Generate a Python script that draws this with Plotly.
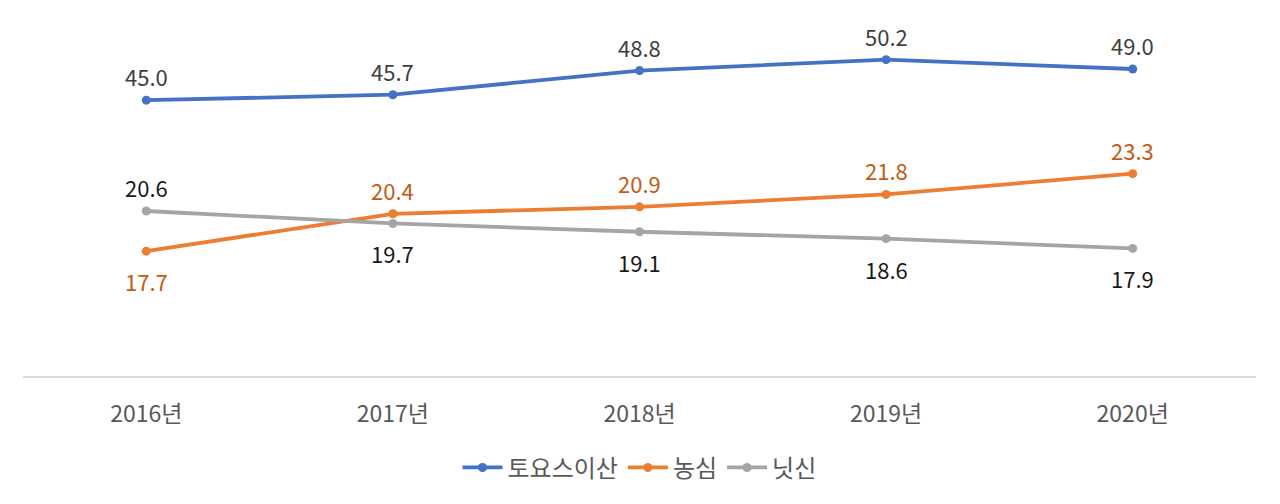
import plotly.graph_objects as go

years = ['2016년', '2017년', '2018년', '2019년', '2020년']
toyo = [45.0, 45.7, 48.8, 50.2, 49.0]
nongshim = [17.7, 20.4, 20.9, 21.8, 23.3]
nissin = [20.6, 19.7, 19.1, 18.6, 17.9]

FONT = 'Noto Sans CJK KR'
LABEL_SIZE = 22

series = [
    # name, values, axis, line colour, label colour, label above?
    ('토요스이산', toyo, 'y2', '#4472C4', '#404040', [True] * 5),
    ('농심', nongshim, 'y', '#ED7D31', '#C55A11', [False, True, True, True, True]),
    ('닛신', nissin, 'y', '#A5A5A5', '#1a1a1a', [True, False, False, False, False]),
]

fig = go.Figure()
for name, vals, ax, col, lcol, above in series:
    fig.add_trace(go.Scatter(
        x=years, y=vals, name=name, yaxis=ax, mode='lines+markers',
        line=dict(color=col, width=3.8), marker=dict(size=9, color=col)))
    for yr, v, up in zip(years, vals, above):
        fig.add_annotation(
            x=yr, y=v, xref='x', yref=ax, text=f'{v:.1f}', showarrow=False,
            yshift=24 if up else -30,
            font=dict(color=lcol, size=LABEL_SIZE, family=FONT))

# page body has an 8px margin, so the figure is drawn 8px smaller
fig.update_layout(
    width=1272, height=496,
    paper_bgcolor='white', plot_bgcolor='white',
    margin=dict(l=15, r=24, t=12, b=128),
    font=dict(family=FONT, color='#595959'),
    showlegend=True,
    legend=dict(orientation='h', x=0.5, xanchor='center', y=-0.258, yanchor='middle',
                font=dict(size=24, color='#595959'), itemwidth=40),
    xaxis=dict(type='category', range=[-0.5, 4.5], showgrid=False, zeroline=False,
               showline=True, linecolor='#D9D9D9', linewidth=1.5,
               tickfont=dict(size=23, color='#595959'), ticklabelstandoff=17),
    yaxis=dict(range=[8.68, 34.4], visible=False),
    yaxis2=dict(range=[9.59, 55.29], visible=False, overlaying='y', side='right'),
)

fig.write_html('out.html')
